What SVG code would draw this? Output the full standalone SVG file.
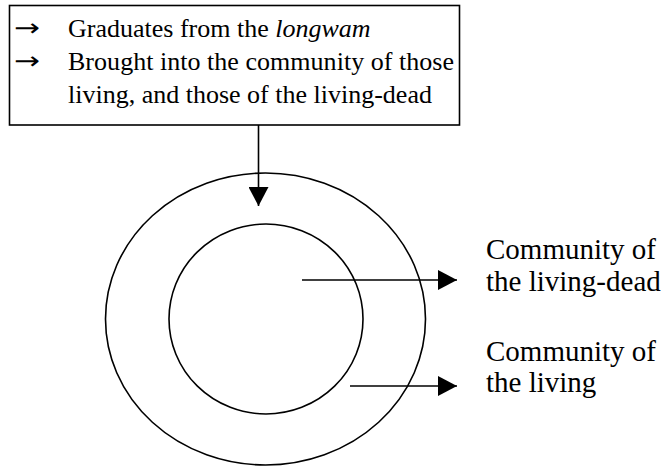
<svg xmlns="http://www.w3.org/2000/svg" width="667" height="467" viewBox="0 0 667 467">
<defs>
<marker id="ahd" markerWidth="20" markerHeight="20" refX="19" refY="10" orient="auto" markerUnits="userSpaceOnUse">
<path d="M0,0 L19,10 L0,20 Z" fill="#000"/>
</marker>
</defs>
<style>
text{font-family:"Liberation Serif","Times New Roman",serif;font-size:29px;fill:#000}
.bx{font-size:26px}
.arr{font-family:"DejaVu Sans",sans-serif;font-size:24px}
.ln{stroke:#000;stroke-width:1.6;fill:none}
</style>
<rect width="667" height="467" fill="#fff"/>
<g id="box">
<rect class="ln" x="9.5" y="5.5" width="450" height="119.5"/>
<text class="arr" x="14" y="36" textLength="26" lengthAdjust="spacingAndGlyphs">→</text>
<text class="bx" x="68" y="37">Graduates from the <tspan font-style="italic">longwam</tspan></text>
<text class="arr" x="14" y="69" textLength="26" lengthAdjust="spacingAndGlyphs">→</text>
<text class="bx" x="68" y="70" textLength="386" lengthAdjust="spacing">Brought into the community of those</text>
<text class="bx" x="68" y="103">living, and those of the living-dead</text>
</g>
<g id="outer">
<ellipse class="ln" cx="265.5" cy="319" rx="160" ry="146"/>
</g>
<g id="inner">
<ellipse class="ln" cx="266" cy="319" rx="97" ry="95"/>
</g>
<g id="label-dead">
<text x="486" y="259">Community of</text>
<text x="486" y="291">the living-dead</text>
</g>
<g id="label-living">
<text x="486" y="361">Community of</text>
<text x="486" y="392">the living</text>
</g>
<g id="connectors">
<line class="ln" x1="258.5" y1="125" x2="258.5" y2="206" marker-end="url(#ahd)"/>
<line class="ln" x1="302" y1="280" x2="457" y2="280" marker-end="url(#ahd)"/>
<line class="ln" x1="350" y1="386" x2="457" y2="386" marker-end="url(#ahd)"/>
</g>
</svg>
